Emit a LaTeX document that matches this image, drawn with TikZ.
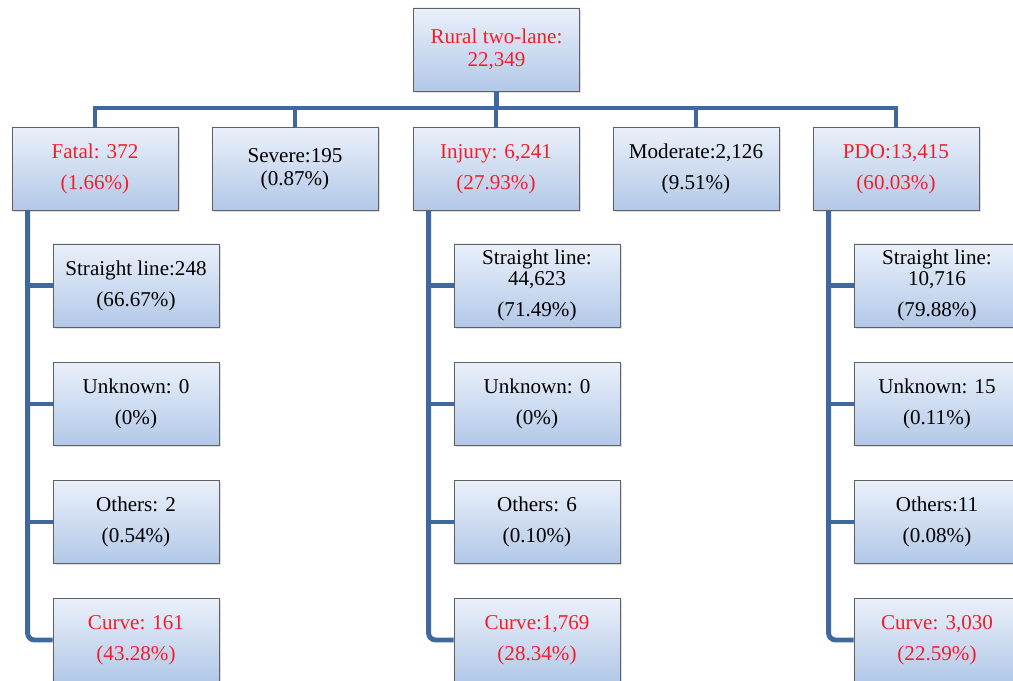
\documentclass[tikz,border=0pt]{standalone}
\usepackage{fontspec}
\setmainfont{Liberation Serif}
\usetikzlibrary{positioning, calc, shadows}
\definecolor{linkblue}{RGB}{63,104,160}
\definecolor{boxtop}{RGB}{234,240,250}
\definecolor{boxbot}{RGB}{178,200,232}
\definecolor{alertred}{RGB}{245,30,40}

\begin{document}
\begin{tikzpicture}[x=0.025cm, y=-0.025cm,
    caixa/.style={draw=gray!75!black, line width=0.6pt, top color=boxtop, bottom color=boxbot,
      minimum width=4.15cm, minimum height=2.075cm, inner sep=2pt, align=center,
      font=\fontsize{15}{16.5}\selectfont,
      drop shadow={opacity=0.25, shadow xshift=1.2pt, shadow yshift=-1.2pt}},
    destaque/.style={caixa, text=alertred},
    ligacao/.style={linkblue, line width=3.5pt}]
    \clip (0,0) rectangle (1013,680);
    % Raiz
    \node[destaque] (rural) at (496.5,49.5) {Rural two-lane:\\22,349};
    % Severidade
    \node[destaque] (fatal) at (95,169) {Fatal: 372\\[5.5pt](1.66\%)};
    \node[caixa] (severe) at (295,169) {Severe:195\\(0.87\%)};
    \node[destaque] (injury) at (496,169) {Injury: 6,241\\[5.5pt](27.93\%)};
    \node[caixa] (moderate) at (696,169) {Moderate:2,126\\[5.5pt](9.51\%)};
    \node[destaque] (pdo) at (896,169) {PDO:13,415\\[5.5pt](60.03\%)};
    % Barramento
    \coordinate (bus) at (496,108);
    \foreach \n in {fatal, severe, injury, moderate, pdo}
      \draw[ligacao] (rural.south) -- (rural.south |- bus) -| (\n.north);
    % Geometria - Fatal
    \node[caixa] (fstraight) at (136,285.5) {Straight line:248\\[5.5pt](66.67\%)};
    \node[caixa] (funknown) at (136,404) {Unknown: 0\\[5.5pt](0\%)};
    \node[caixa] (fothers) at (136,522) {Others: 2\\[5.5pt](0.54\%)};
    \node[destaque] (fcurve) at (136,640) {Curve: 161\\[5.5pt](43.28\%)};
    % Geometria - Injury
    \node[caixa] (istraight) at (537,285.5) {Straight line:\\[-1.5pt]44,623\\[5.5pt](71.49\%)};
    \node[caixa] (iunknown) at (537,404) {Unknown: 0\\[5.5pt](0\%)};
    \node[caixa] (iothers) at (537,522) {Others: 6\\[5.5pt](0.10\%)};
    \node[destaque] (icurve) at (537,640) {Curve:1,769\\[5.5pt](28.34\%)};
    % Geometria - PDO
    \node[caixa] (pstraight) at (937,285.5) {Straight line:\\[-1.5pt]10,716\\[5.5pt](79.88\%)};
    \node[caixa] (punknown) at (937,404) {Unknown: 15\\[5.5pt](0.11\%)};
    \node[caixa] (pothers) at (937,522) {Others:11\\[5.5pt](0.08\%)};
    \node[destaque] (pcurve) at (937,640) {Curve: 3,030\\[5.5pt](22.59\%)};
    % Ramos
    \foreach \p/\c in {fatal/f, injury/i, pdo/p} {
      \coordinate (\c spine) at ($(\p.south west)+(16,0)$);
      \draw[ligacao, rounded corners=5pt] (\c spine) |- (\c curve.west);
      \foreach \k in {straight, unknown, others}
        \draw[ligacao] (\c spine |- \c\k.west) -- (\c\k.west);
    }
\end{tikzpicture}
\end{document}
